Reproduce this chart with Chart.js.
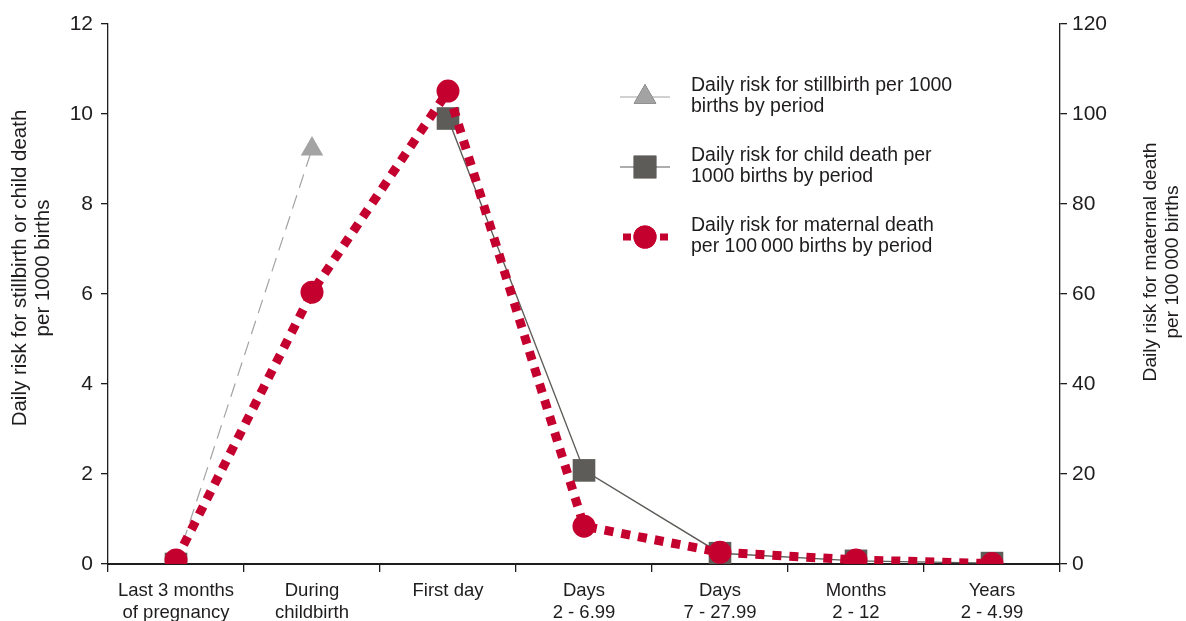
<!DOCTYPE html>
<html>
<head>
<meta charset="utf-8">
<script src="https://cdn.jsdelivr.net/npm/chart.js@4.4.1/dist/chart.umd.min.js"></script>
<style>
  html, body { margin: 0; padding: 0; background: #fff; }
  #wrap { width: 1186px; height: 621px; }
</style>
</head>
<body>
<div id="wrap"><canvas id="chart" width="1186" height="621"></canvas></div>
<script>
const periods = [
  ["Last 3 months", "of pregnancy"],
  ["During", "childbirth"],
  "First day",
  ["Days", "2 - 6.99"],
  ["Days", "7 - 27.99"],
  ["Months", "2 - 12"],
  ["Years", "2 - 4.99"]
];
const stillbirth = [0, 9.22, null, null, null, null, null];
const childDeath = [0, null, 9.9, 2.08, 0.24, 0.07, 0.02];
const maternalDeath = [0.9, 60.4, 105.1, 8.4, 2.6, 0.9, 0.1];

const legendLabels = [
  ["Daily risk for stillbirth per 1000", "births by period"],
  ["Daily risk for child death per", "1000 births by period"],
  ["Daily risk for maternal death", "per 100\u2009000 births by period"]
];
const leftTitle = ["Daily risk for stillbirth or child death", "per 1000 births"];
const rightTitle = ["Daily risk for maternal death", "per 100\u2009000 births"];

const FONT = "'Liberation Sans', Arial, sans-serif";
const ink = "#1f1c1d";
const red = "#c4002f";
const darkGrey = "#5d5c58";
const lightGrey = "#a3a3a3";

// legend and the two axis titles are drawn by hand (titles read bottom to top on both sides)
const extras = {
  id: "extras",
  afterDraw(chart) {
    const ctx = chart.ctx;
    const ds = chart.data.datasets;
    const rows = [97, 167, 237];
    ctx.save();
    ctx.textBaseline = "middle";
    ds.forEach((d, i) => {
      const y = rows[i];
      const cx = 645;
      ctx.strokeStyle = d.borderColor;
      if (i < 2) {
        ctx.lineWidth = 1.2;
        ctx.beginPath();
        ctx.moveTo(620, y);
        ctx.lineTo(670, y);
        ctx.stroke();
      } else {
        ctx.fillStyle = d.borderColor;
        ctx.fillRect(623, y - 3.5, 8, 7);
        ctx.fillRect(660, y - 3.5, 8, 7);
      }
      Chart.helpers.drawPoint(ctx, {
        pointStyle: d.pointStyle,
        radius: d.pointRadius,
        borderWidth: 0
      }, cx, y);
      ctx.fillStyle = d.pointBackgroundColor;
      ctx.fill();
      ctx.fillStyle = ink;
      ctx.textAlign = "left";
      ctx.font = "19.5px " + FONT;
      legendLabels[i].forEach((t, k) => ctx.fillText(t, 691, y - 11 + k * 21));
    });

    ctx.textAlign = "center";
    ctx.fillStyle = ink;
    const title = (lines, xs, cy, size) => {
      ctx.font = size + "px " + FONT;
      lines.forEach((t, k) => {
        ctx.save();
        ctx.translate(xs[k], cy);
        ctx.rotate(-Math.PI / 2);
        ctx.fillText(t, 0, 0);
        ctx.restore();
      });
    };
    title(leftTitle, [20, 43], 268, 20.5);
    title(rightTitle, [1151, 1173], 262, 19.2);
    ctx.restore();
  }
};

new Chart(document.getElementById("chart"), {
  type: "line",
  data: {
    labels: periods,
    datasets: [
      {
        label: "Stillbirth",
        data: stillbirth,
        yAxisID: "y",
        borderColor: lightGrey,
        borderWidth: 1.2,
        borderDash: [14, 8],
        pointStyle: "triangle",
        pointRadius: 13,
        pointBackgroundColor: lightGrey,
        pointBorderWidth: 0,
        order: 3
      },
      {
        label: "Child death",
        data: childDeath,
        yAxisID: "y",
        borderColor: darkGrey,
        borderWidth: 1.4,
        pointStyle: "rect",
        pointRadius: 16,
        pointBackgroundColor: darkGrey,
        pointBorderWidth: 0,
        order: 2
      },
      {
        label: "Maternal death",
        data: maternalDeath,
        yAxisID: "y1",
        borderColor: red,
        borderWidth: 9,
        borderDash: [9, 8],
        borderCapStyle: "butt",
        pointStyle: "circle",
        pointRadius: 11.5,
        pointBackgroundColor: red,
        pointBorderWidth: 0,
        order: 1
      }
    ]
  },
  options: {
    responsive: false,
    animation: false,
    layout: { padding: { top: 24, left: 0, right: 0, bottom: 0 } },
    plugins: {
      legend: { display: false },
      tooltip: { enabled: false }
    },
    scales: {
      x: {
        offset: true,
        grid: { display: true, offset: true, drawOnChartArea: false, color: ink, tickLength: 8, lineWidth: 1.3 },
        border: { color: ink, width: 2 },
        ticks: { color: ink, font: { family: FONT, size: 18.5, lineHeight: 1.2 }, padding: 8, maxRotation: 0, autoSkip: false },
        afterFit(s) { s.height = 57; }
      },
      y: {
        position: "left",
        min: 0,
        max: 12,
        ticks: { stepSize: 2, color: ink, font: { family: FONT, size: 21 }, padding: 8 },
        grid: { display: true, drawOnChartArea: false, color: ink, tickLength: 7, lineWidth: 1.3 },
        border: { color: ink, width: 1.3 },
        afterFit(s) { s.width = 108; }
      },
      y1: {
        position: "right",
        min: 0,
        max: 120,
        ticks: { stepSize: 20, color: ink, font: { family: FONT, size: 21 }, padding: 5 },
        grid: { display: true, drawOnChartArea: false, color: ink, tickLength: 7, lineWidth: 1.3 },
        border: { color: ink, width: 1.3 },
        afterFit(s) { s.width = 126; }
      }
    }
  },
  plugins: [extras]
});
</script>
</body>
</html>
